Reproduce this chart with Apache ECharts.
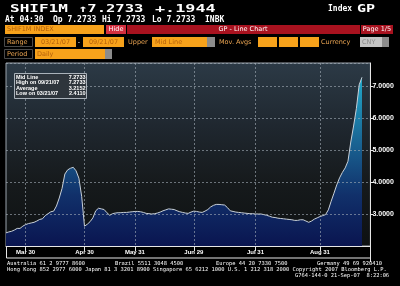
<!DOCTYPE html>
<html><head><meta charset="utf-8">
<script src="https://cdn.jsdelivr.net/npm/echarts@6/dist/echarts.min.js"></script>
<style>html,body{margin:0;padding:0;background:#000;}#c{width:400px;height:286px;}</style>
</head><body><div id="c"></div>
<script>
// ---- data ----
const firstDay = '2007-03-21';
const lastDay = '2007-09-26';           // three trailing empty trading days
const holidays = ['2007-05-01','2007-05-02','2007-05-03','2007-05-04','2007-05-07'];
const values = [
 2.411,2.44,2.46,2.50,2.55,2.55,2.62,2.67,2.70,2.72,
 2.74,2.78,2.83,2.85,2.95,3.01,3.07,3.09,3.25,3.50,
 3.80,4.25,4.38,4.43,4.46,4.35,4.12,3.55,2.62,2.68,
 2.76,2.88,3.10,3.18,3.16,3.14,3.04,2.96,3.01,3.03,
 3.04,3.04,3.05,3.05,3.06,3.07,3.08,3.08,3.07,3.05,
 3.02,3.01,3.00,3.01,3.03,3.06,3.10,3.13,3.16,3.15,
 3.14,3.10,3.07,3.05,3.03,3.02,3.06,3.09,3.08,3.06,
 3.05,3.09,3.14,3.22,3.27,3.30,3.30,3.29,3.28,3.20,
 3.10,3.08,3.06,3.05,3.04,3.03,3.02,3.01,3.01,3.00,
 3.00,3.00,2.98,2.96,2.93,2.90,2.89,2.87,2.86,2.85,
 2.84,2.83,2.82,2.80,2.80,2.82,2.82,2.78,2.74,2.78,
 2.84,2.88,2.92,2.95,2.98,3.13,3.40,3.65,3.91,4.13,
 4.30,4.44,4.65,5.25,5.75,6.30,7.04,7.2733
];
const tickDates = ['2007-03-30','2007-04-30','2007-05-31','2007-06-29','2007-07-31','2007-08-31'];
const tickLabels = ['Mar 30','Apr 30','May 31','Jun 29','Jul 31','Aug 31'];
const statLabels = ['Mid Line','High on 09/21/07','Average','Low on 03/21/07'];
const statValues = ['7.2733','7.2733','3.2152','2.4110'];
const yMin = 2, yMax = 7.72, yStep = 1;

// ---- trading-day categories ----
function buildDates(a, b, skip) {
  const out = [];
  const d = new Date(a + 'T00:00:00Z'), end = new Date(b + 'T00:00:00Z');
  while (d <= end) {
    const s = d.toISOString().slice(0, 10), wd = d.getUTCDay();
    if (wd !== 0 && wd !== 6 && skip.indexOf(s) < 0) out.push(s);
    d.setUTCDate(d.getUTCDate() + 1);
  }
  return out;
}
const dates = buildDates(firstDay, lastDay, holidays);
const isTick = (i, v) => tickDates.indexOf(v) >= 0;

// ---- helpers for the terminal chrome ----
const ORANGE = '#f7a21b', OTXT = '#b5600a', LBL = '#eba552';
function T(x, y, text, font, fill, align, extra) {
  return Object.assign({type:'text', x:x, y:y, silent:true, z:100,
    style:{text:text, font:font, fill:fill || '#fff', textAlign:align || 'left', align:align || 'left',
      textVerticalAlign:'middle', verticalAlign:'middle'}}, extra || {});
}
function R(x, y, w, h, fill, stroke) {
  return {type:'rect', silent:true, z:99, shape:{x:x, y:y, width:w, height:h},
    style:{fill:fill || 'none', stroke:stroke || null, lineWidth:1}};
}
const BIG = 'bold 10px "DejaVu Sans Mono"';
const MID = 'bold 8px "DejaVu Sans Mono"';
const SM = '6.5px "DejaVu Sans"';
const TINY = '5.4px "DejaVu Sans Mono"';
const LEG = 'bold 5.5px "Liberation Sans"';

const g = [];
// row 1
g.push(T(10, 9, 'SHIF1M', BIG, '#fff', 'left', {scaleX:1.6}));
g.push(T(78, 9, '\u21917.2733', BIG, '#fff', 'left', {scaleX:1.55}));
g.push(T(155, 9, '+.1944', BIG, '#fff', 'left', {scaleX:1.68}));
g.push(T(328, 9, 'Index', MID, '#fff'));
g.push(T(357, 9, 'GP', BIG, '#fff', 'left', {scaleX:1.5}));
// row 2
g.push(T(5, 20, 'At 04:30', MID));
g.push(T(53, 20, 'Op 7.2733', MID));
g.push(T(102, 20, 'Hi 7.2733', MID));
g.push(T(152, 20, 'Lo 7.2733', MID));
g.push(T(205, 20, 'INBK', MID));
// row 3
g.push(R(5, 25, 99, 9, ORANGE));
g.push(T(7, 29.8, 'SHIF1M INDEX', SM, OTXT));
g.push(R(106, 25, 20, 9, '#d42f3f'));
g.push(T(116, 29.8, 'Hide', SM, '#fff', 'center'));
g.push(R(127, 25, 233, 9, '#a8121f'));
g.push(T(243, 29.8, 'GP - Line Chart', SM, '#fff', 'center'));
g.push(R(361, 25, 32, 9, '#a8121f'));
g.push(T(377, 29.8, 'Page 1/5', SM, '#fff', 'center'));
// row 4
g.push(R(4.5, 37.5, 28, 9, '#000', '#4a4a4a'));
g.push(T(7, 42, 'Range', SM, LBL));
g.push(R(35, 37, 41, 10, ORANGE));
g.push(T(55.5, 42, '03/21/07', SM, OTXT, 'center'));
g.push(T(79, 42, '-', SM, '#fff', 'center'));
g.push(R(83, 37, 41, 10, ORANGE));
g.push(T(103.5, 42, '09/21/07', SM, OTXT, 'center'));
g.push(T(128, 42, 'Upper', SM, LBL));
g.push(R(152, 37, 55, 10, ORANGE));
g.push(T(155, 42, 'Mid Line', SM, OTXT));
g.push(R(207, 37, 8, 10, '#8c8c8c'));
g.push(T(219, 42, 'Mov. Avgs', SM, LBL));
g.push(R(258, 37, 19, 10, ORANGE));
g.push(R(279, 37, 19, 10, ORANGE));
g.push(R(300, 37, 19, 10, ORANGE));
g.push(T(321, 42, 'Currency', SM, LBL));
g.push(R(360, 37, 22, 10, '#c4c4c4'));
g.push(T(362, 42, 'CNY', SM, '#8a8a8a'));
g.push(R(382, 37, 7, 10, '#8c8c8c'));
// row 5
g.push(R(4.5, 49.5, 28, 9, '#000', '#4a4a4a'));
g.push(T(7, 54, 'Period', SM, LBL));
g.push(R(35, 49, 70, 10, ORANGE));
g.push(T(37, 54, 'Daily', SM, OTXT));
g.push(R(105, 49, 7, 10, '#8c8c8c'));
// stats box
g.push(R(14.5, 73.5, 72, 25, '#2e353c', '#aab2ba'));
statLabels.forEach((s, i) => {
  g.push(T(16, 77.3 + i * 5.5, s, LEG, '#fff'));
  g.push(T(85.5, 77.3 + i * 5.5, statValues[i], LEG, '#fff', 'right'));
});
// x-axis band frame
g.push({type:'rect', silent:true, z:20, shape:{x:6.5, y:246.5, width:364, height:11.5},
  style:{fill:'none', stroke:'#e6e6e6', lineWidth:1}});
g.push({type:'line', silent:true, z:20, shape:{x1:370.5, y1:246, x2:370.5, y2:262},
  style:{stroke:'#e6e6e6', lineWidth:1}});
// footer
g.push(T(7, 263.5, 'Australia 61 2 9777 8600', TINY));
g.push(T(115, 263.5, 'Brazil 5511 3048 4500', TINY));
g.push(T(216, 263.5, 'Europe 44 20 7330 7500', TINY));
g.push(T(317, 263.5, 'Germany 49 69 920410', TINY));
g.push(T(7, 269.5, 'Hong Kong 852 2977 6000 Japan 81 3 3201 8900 Singapore 65 6212 1000 U.S. 1 212 318 2000 Copyright 2007 Bloomberg L.P.', TINY));
g.push(T(295, 275.5, 'G764-144-0 21-Sep-07  8:22:06', TINY));

const dotted = {color:'rgba(165,175,185,0.6)', width:1, type:[2,2]};
const chart = echarts.init(document.getElementById('c'), null, {renderer:'canvas'});
chart.setOption({
  backgroundColor:'#000',
  animation:false,
  grid:{left:6, right:29.6, top:63, bottom:40, show:true, borderColor:'#9aa3ac', borderWidth:1,
    backgroundColor:{type:'linear', x:0, y:0, x2:0, y2:1, colorStops:[
      {offset:0, color:'#2c3a46'}, {offset:0.35, color:'#1f272f'},
      {offset:0.65, color:'#161a1c'}, {offset:1, color:'#0e1112'}]}},
  xAxis:{type:'category', data:dates, boundaryGap:false, z:5,
    axisLine:{lineStyle:{color:'#e6e6e6', width:1}},
    axisTick:{show:true, interval:isTick, length:5, lineStyle:{color:'#e6e6e6'}},
    axisLabel:{interval:isTick, color:'#fff', fontSize:6, fontWeight:'bold', fontFamily:'Liberation Sans', margin:3,
      formatter:v => tickLabels[tickDates.indexOf(v)] || ''},
    splitLine:{show:true, interval:isTick, lineStyle:dotted}},
  yAxis:{type:'value', position:'right', min:yMin, max:yMax, interval:yStep, z:5,
    axisLine:{show:true, lineStyle:{color:'#e6e6e6', width:1}},
    axisTick:{show:true, length:3, lineStyle:{color:'#e6e6e6'}},
    axisLabel:{color:'#fff', fontSize:7, fontWeight:'bold', fontFamily:'Liberation Sans', margin:2,
      showMinLabel:false, showMaxLabel:false, formatter:v => v.toFixed(4)},
    splitLine:{show:true, lineStyle:dotted}},
  series:[{type:'line', data:values, symbol:'none', z:2,
    lineStyle:{color:'#c8d0d8', width:1},
    areaStyle:{origin:'start', opacity:1, color:new echarts.graphic.LinearGradient(0,0,0,1,[
      {offset:0, color:'#22aacb'}, {offset:0.35, color:'#1a6a98'},
      {offset:0.7, color:'#11306a'}, {offset:1, color:'#0a1550'}])}}],
  graphic:g
});
</script></body></html>
